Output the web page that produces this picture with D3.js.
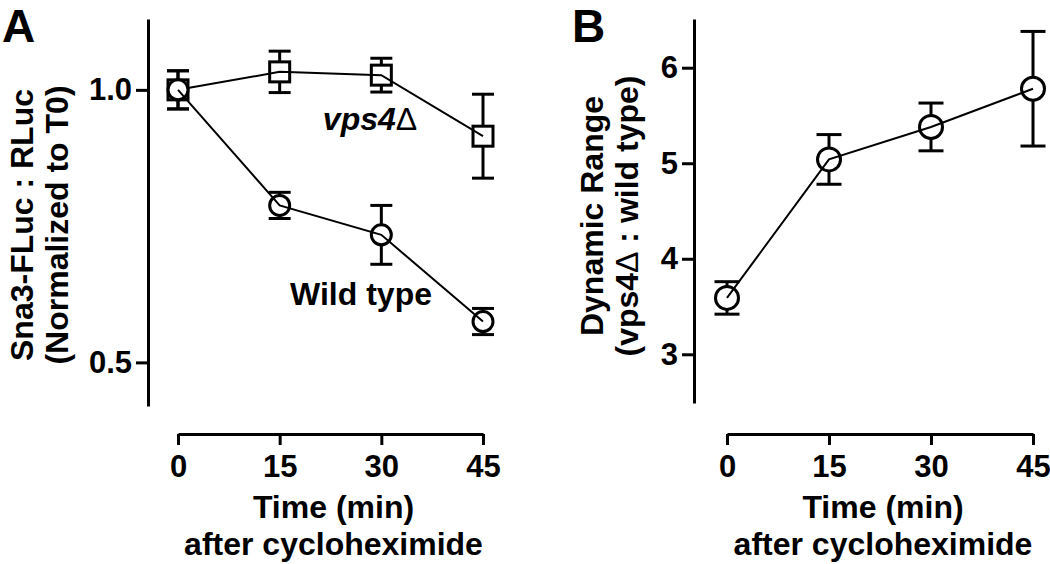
<!DOCTYPE html>
<html>
<head>
<meta charset="utf-8">
<script src="https://cdn.jsdelivr.net/npm/d3@7"></script>
<style>
  html, body { margin: 0; padding: 0; background: #fff; }
  svg { display: block; }
  text { font-family: "Liberation Sans", Arial, Helvetica, sans-serif; font-weight: bold; fill: #000; }
</style>
</head>
<body>
<svg id="chart" width="1050" height="564"></svg>
<script>
// ---- data ----
const times = [0, 15, 30, 45];
const timeTicks = [0, 15, 30, 45];
const wtMean = [1.00, 0.788, 0.734, 0.575];
const wtErr  = [0.035, 0.024, 0.054, 0.024];
const vpsMean = [1.00, 1.033, 1.027, 0.915];
const vpsErr  = [0.035, 0.038, 0.031, 0.077];
const yTicksA = [0.5, 1.0];
const rangeMean = [3.59, 5.04, 5.38, 5.78];
const rangeErr  = [0.17, 0.26, 0.25, 0.60];
const yTicksB = [3, 4, 5, 6];

const svg = d3.select("#chart");

// ---- scales ----
const xA = d3.scaleLinear().domain([0, 45]).range([178, 483]);
const yA = d3.scaleLinear().domain([0.42, 1.13]).range([406, 19]);
const xB = d3.scaleLinear().domain([0, 45]).range([727, 1033]);
const yB = d3.scaleLinear().domain([2.49, 6.51]).range([403, 19]);

function styleAxis(g, fs) {
  g.attr("font-size", fs).attr("font-family", null);
  g.select(".domain").attr("stroke", "#000").attr("stroke-width", 3);
  g.selectAll(".tick line").attr("stroke", "#000").attr("stroke-width", 3);
  g.selectAll(".tick text").attr("fill", "#000");
}

// ---- axes A ----
svg.append("g").attr("transform", "translate(148,0)")
  .call(d3.axisLeft(yA).tickValues(yTicksA).tickFormat(d3.format(".1f")).tickSize(12).tickPadding(4).tickSizeOuter(0))
  .call(g => styleAxis(g, 31));
svg.append("g").attr("transform", "translate(0,434)")
  .call(d3.axisBottom(xA).tickValues(timeTicks).tickFormat(d3.format("d")).tickSize(11).tickPadding(10).tickSizeOuter(0))
  .call(g => styleAxis(g, 31));

// ---- axes B ----
svg.append("g").attr("transform", "translate(694,0)")
  .call(d3.axisLeft(yB).tickValues(yTicksB).tickFormat(d3.format("d")).tickSize(12).tickPadding(4).tickSizeOuter(0))
  .call(g => styleAxis(g, 31));
svg.append("g").attr("transform", "translate(0,434)")
  .call(d3.axisBottom(xB).tickValues(timeTicks).tickFormat(d3.format("d")).tickSize(11).tickPadding(10).tickSizeOuter(0))
  .call(g => styleAxis(g, 31));

// ---- series drawing helper ----
function drawSeries(x, y, means, errs, shape, size, cap) {
  const data = times.map((t, i) => ({ t, m: means[i], e: errs[i] }));
  const g = svg.append("g");
  // error bars
  data.forEach(d => {
    g.append("line").attr("x1", x(d.t)).attr("x2", x(d.t))
      .attr("y1", y(d.m - d.e)).attr("y2", y(d.m + d.e))
      .attr("stroke", "#000").attr("stroke-width", 3);
    [d.m - d.e, d.m + d.e].forEach(v => {
      g.append("line").attr("x1", x(d.t) - cap / 2).attr("x2", x(d.t) + cap / 2)
        .attr("y1", y(v)).attr("y2", y(v))
        .attr("stroke", "#000").attr("stroke-width", 3);
    });
  });
  // markers
  data.forEach(d => {
    if (shape === "circle") {
      g.append("circle").attr("cx", x(d.t)).attr("cy", y(d.m)).attr("r", size)
        .attr("fill", "#fff").attr("stroke", "#000").attr("stroke-width", 3);
    } else {
      g.append("rect").attr("x", x(d.t) - size).attr("y", y(d.m) - size)
        .attr("width", size * 2).attr("height", size * 2)
        .attr("fill", "#fff").attr("stroke", "#000").attr("stroke-width", 3);
    }
  });
  // connecting line on top
  const line = d3.line().x(d => x(d.t)).y(d => y(d.m));
  g.append("path").datum(data).attr("d", line)
    .attr("fill", "none").attr("stroke", "#000").attr("stroke-width", 2);
}

drawSeries(xA, yA, vpsMean, vpsErr, "square", 10, 22);
drawSeries(xA, yA, wtMean, wtErr, "circle", 10, 22);
drawSeries(xB, yB, rangeMean, rangeErr, "circle", 11.5, 25);

// ---- annotations ----
const vpsLbl = svg.append("text").attr("x", 370).attr("y", 130).attr("text-anchor", "middle").attr("font-size", 32);
vpsLbl.append("tspan").attr("font-style", "italic").text("vps4");
vpsLbl.append("tspan").attr("font-weight", "normal").text("Δ");
svg.append("text").attr("x", 361).attr("y", 305).attr("text-anchor", "middle").attr("font-size", 32).text("Wild type");

// panel letters
svg.append("text").attr("x", 2).attr("y", 42).attr("font-size", 46).text("A");
svg.append("text").attr("x", 572).attr("y", 42).attr("font-size", 46).text("B");

// x axis titles
[xA, xB].forEach(x => {
  const cx = (x.range()[0] + x.range()[1]) / 2 + 3;
  svg.append("text").attr("x", cx).attr("y", 518).attr("text-anchor", "middle").attr("font-size", 32).text("Time (min)");
  svg.append("text").attr("x", cx).attr("y", 555).attr("text-anchor", "middle").attr("font-size", 32).text("after cycloheximide");
});

// y axis titles
function yTitle(xBase, cy, lines) {
  const t = svg.append("text").attr("transform", `translate(${xBase},${cy}) rotate(-90)`)
    .attr("text-anchor", "middle").attr("font-size", 32);
  lines.forEach((parts, i) => {
    const ts = t.append("tspan").attr("x", 0).attr("y", i * 35);
    parts.forEach(p => {
      const s = ts.append("tspan").text(p.text);
      if (p.normal) s.attr("font-weight", "normal");
    });
  });
}
yTitle(33, 225, [[{ text: "Sna3-FLuc : RLuc" }], [{ text: "(Normalized to T0)" }]]);
yTitle(603, 216, [[{ text: "Dynamic Range" }], [{ text: "(vps4" }, { text: "Δ", normal: true }, { text: " : wild type)" }]]);
</script>
</body>
</html>
